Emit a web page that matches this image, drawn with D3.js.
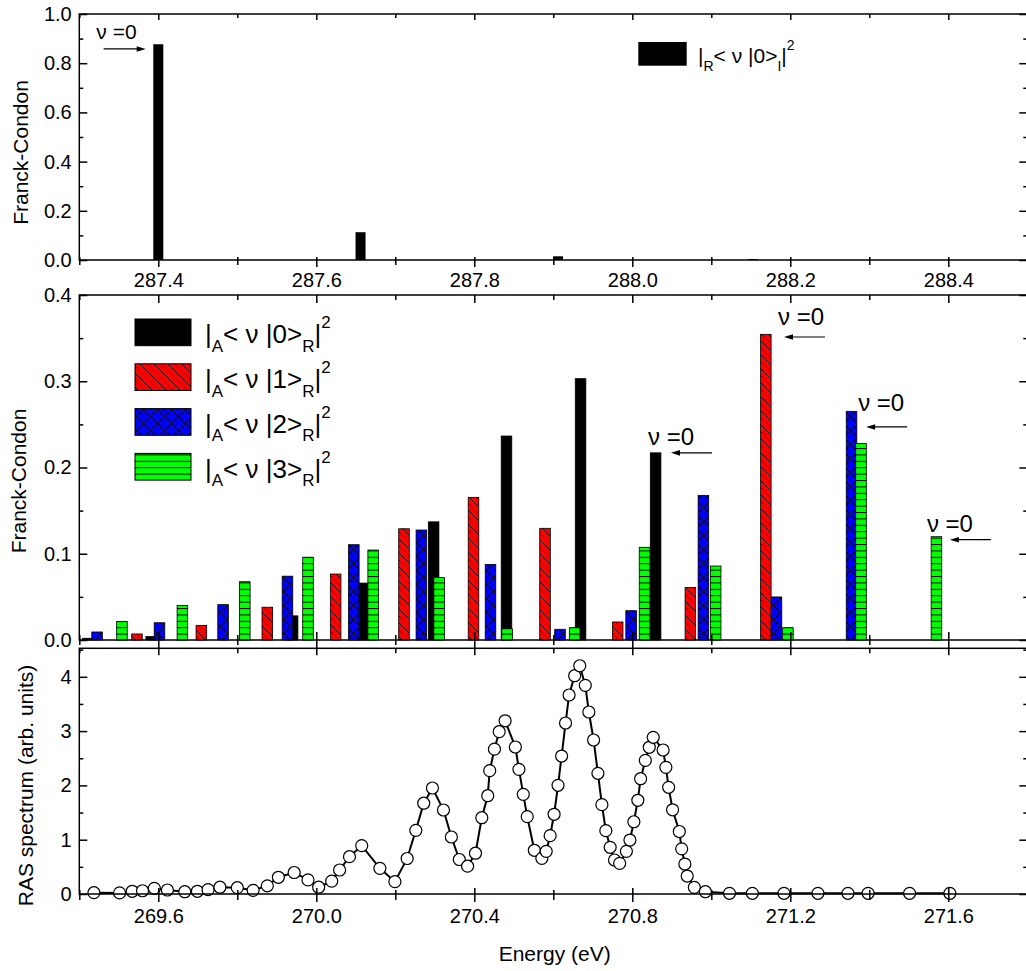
<!DOCTYPE html>
<html><head><meta charset="utf-8">
<script src="https://cdn.jsdelivr.net/npm/d3@7"></script>
<style>
body{margin:0;background:#fff}
svg{display:block}
text{font-family:"Liberation Sans", Arial, sans-serif; fill:#000}
</style>
</head><body>
<svg id="chart" width="1026" height="971"></svg>
<script>
// ---------------- DATA ----------------
// Top panel: |R<v|0>I|^2
const topEnergy = [287.4, 287.656, 287.906, 288.153];
const topFC     = [0.877, 0.113, 0.015, 0.004];

// Middle panel: |A<v|n>R|^2, n = 0..3
const fc0Energy = [269.421, 269.582, 269.940, 270.117, 270.297, 270.4815, 270.669, 270.859];
const fc0Value  = [0.002, 0.004, 0.028, 0.066, 0.137, 0.2365, 0.303, 0.217];
const fc1Energy = [269.546, 269.709, 269.876, 270.049, 270.222, 270.398, 270.579, 270.763, 270.947, 271.138];
const fc1Value  = [0.007, 0.017, 0.038, 0.0765, 0.129, 0.1654, 0.1295, 0.0209, 0.061, 0.3544];
const fc2Energy = [269.445, 269.603, 269.764, 269.927, 270.095, 270.266, 270.441, 270.617, 270.797, 270.980, 271.165, 271.355];
const fc2Value  = [0.0093, 0.020, 0.041, 0.074, 0.1105, 0.1275, 0.0877, 0.0124, 0.034, 0.1677, 0.0499, 0.2651];
const fc3Energy = [269.508, 269.661, 269.819, 269.979, 270.144, 270.311, 270.483, 270.654, 270.831, 271.011, 271.194, 271.379, 271.570];
const fc3Value  = [0.0216, 0.040, 0.0676, 0.096, 0.1043, 0.0723, 0.013, 0.0143, 0.1075, 0.0858, 0.0143, 0.228, 0.1198];

// Bottom panel: RAS spectrum
const rasEnergy = [269.437, 269.502, 269.534, 269.560, 269.590, 269.623, 269.667, 269.699, 269.726, 269.756,
  269.800, 269.840, 269.876, 269.904, 269.944, 269.979, 270.006, 270.039, 270.059, 270.084,
  270.115, 270.161, 270.199, 270.230, 270.252, 270.272, 270.294, 270.322, 270.342, 270.362,
  270.383, 270.403, 270.419, 270.434, 270.439, 270.451, 270.463, 270.478, 270.504, 270.513,
  270.524, 270.534, 270.552, 270.571, 270.582, 270.592, 270.602, 270.612, 270.621, 270.631,
  270.640, 270.654, 270.667, 270.681, 270.690, 270.702, 270.713, 270.723, 270.733, 270.744,
  270.755, 270.768, 270.785, 270.794, 270.804, 270.814, 270.821, 270.833, 270.843, 270.853,
  270.878, 270.885, 270.892, 270.902, 270.919, 270.925, 270.933, 270.939, 270.957, 270.985,
  271.046, 271.104, 271.184, 271.270, 271.346, 271.397, 271.502, 271.604];
const rasValue = [0.024, 0.02, 0.05, 0.06, 0.105, 0.074, 0.042, 0.05, 0.08, 0.125,
  0.116, 0.068, 0.151, 0.308, 0.396, 0.26, 0.125, 0.236, 0.442, 0.687,
  0.891, 0.473, 0.227, 0.654, 1.173, 1.672, 1.952, 1.547, 1.05, 0.635,
  0.512, 0.751, 1.405, 1.81, 2.271, 2.667, 2.989, 3.19, 2.707, 2.296,
  1.836, 1.424, 0.805, 0.657, 0.786, 1.074, 1.468, 2.002, 2.541, 3.149,
  3.665, 4.02, 4.204, 3.843, 3.352, 2.836, 2.223, 1.645, 1.166, 0.86,
  0.626, 0.565, 0.786, 0.994, 1.331, 1.726, 2.123, 2.462, 2.702, 2.886,
  2.652, 2.333, 1.965, 1.551, 1.151, 0.832, 0.552, 0.331, 0.123, 0.042,
  0.013, 0.013, 0.013, 0.013, 0.013, 0.013, 0.013, 0.013];

// Ticks
const topXTicks   = [287.4, 287.6, 287.8, 288.0, 288.2, 288.4];
const topXMinor   = [287.3, 287.5, 287.7, 287.9, 288.1, 288.3, 288.5];
const botXTicks   = [269.6, 270.0, 270.4, 270.8, 271.2, 271.6];
const botXMinor   = [269.4, 269.8, 270.2, 270.6, 271.0, 271.4, 271.8];
const topYTicks   = [0, 0.2, 0.4, 0.6, 0.8, 1.0];
const topYMinor   = [0.1, 0.3, 0.5, 0.7, 0.9];
const midYTicks   = [0, 0.1, 0.2, 0.3, 0.4];
const midYMinor   = [0.05, 0.15, 0.25, 0.35];
const botYTicks   = [0, 1, 2, 3, 4];
const botYMinor   = [0.5, 1.5, 2.5, 3.5, 4.5];

// Legend labels: [sub, ket, sub]
const midLegend = [["A","0","R"],["A","1","R"],["A","2","R"],["A","3","R"]];
const topLegend = ["R","0","I"];

// v=0 annotations (arrow tip in data coords)
const topNote = {e: 287.384, v: 0.858};
const midNotes = [
  {e: 270.898, v: 0.217, tdx: -23, tdy: -8},
  {e: 271.184, v: 0.3513, tdx: -6, tdy: -12},
  {e: 271.392, v: 0.247, tdx: -8, tdy: -16},
  {e: 271.604, v: 0.1163, tdx: -23, tdy: -8}
];

// ---------------- LAYOUT ----------------
const svg = d3.select("#chart");
const xL = 79.3, xR = 1027.3;
const xTop = d3.scaleLinear().domain([287.3, 288.5]).range([xL, xR]);
const xE   = d3.scaleLinear().domain([269.4, 271.8]).range([xL, xR]);
const yTop = d3.scaleLinear().domain([0, 1]).range([260, 14]);
const yMid = d3.scaleLinear().domain([0, 0.4]).range([640, 295]);
const yBot = d3.scaleLinear().domain([0, 4.525]).range([894, 648.3]);

const AX = 1.5;
const defs = svg.append("defs");
function pattern(id, w, h, fill, d, sw) {
  const p = defs.append("pattern").attr("id", id).attr("patternUnits", "userSpaceOnUse")
    .attr("width", w).attr("height", h);
  p.append("rect").attr("width", w).attr("height", h).attr("fill", fill);
  p.append("path").attr("d", d).attr("stroke", "#000").attr("stroke-width", sw).attr("fill", "none");
}
pattern("pRed", 7, 7, "#ff0000", "M0,0L7,7M-2,5L2,9M5,-2L9,2", 0.9);
pattern("pBlue", 7, 7, "#0000ff", "M0,0L7,7M7,0L0,7M-2,5L2,9M5,-2L9,2M-2,2L2,-2M5,9L9,5", 0.8);
pattern("pGreen", 7, 6.4, "#00ff00", "M0,0.5L7,0.5", 1);

const fills = ["#000", "url(#pRed)", "url(#pBlue)", "url(#pGreen)"];

// ---------------- BARS ----------------
const barW = 10.6;
svg.append("g").selectAll("rect").data(d3.zip(topEnergy, topFC)).join("rect")
  .attr("x", d => xTop(d[0]) - 5).attr("width", 10)
  .attr("y", d => yTop(d[1])).attr("height", d => yTop(0) - yTop(d[1]))
  .attr("fill", "#000");

const midSeries = [d3.zip(fc0Energy, fc0Value), d3.zip(fc1Energy, fc1Value),
                   d3.zip(fc2Energy, fc2Value), d3.zip(fc3Energy, fc3Value)];
midSeries.forEach((s, i) => {
  svg.append("g").selectAll("rect").data(s).join("rect")
    .attr("x", d => xE(d[0]) - barW / 2).attr("width", barW)
    .attr("y", d => yMid(d[1])).attr("height", d => yMid(0) - yMid(d[1]))
    .attr("fill", fills[i]).attr("stroke", "#000").attr("stroke-width", 0.8);
});

// ---------------- RAS line ----------------
const ras = d3.zip(rasEnergy, rasValue);
svg.append("path").datum(ras)
  .attr("d", d3.line().x(d => xE(d[0])).y(d => yBot(d[1])))
  .attr("fill", "none").attr("stroke", "#000").attr("stroke-width", 2);
svg.append("g").selectAll("circle").data(ras).join("circle")
  .attr("cx", d => xE(d[0])).attr("cy", d => yBot(d[1])).attr("r", 6)
  .attr("fill", "#fff").attr("stroke", "#000").attr("stroke-width", 1.2);

// ---------------- AXES ----------------
function styleAxis(g) {
  g.select(".domain").remove();
  g.selectAll("line").attr("stroke", "#000").attr("stroke-width", AX);
  g.selectAll("text").attr("font-size", 20).attr("fill", "#000")
    .attr("font-family", "'Liberation Sans', Arial, sans-serif");
}
function xAxis(scale, y, majors, minors, majIn, majOut, minIn, minOut, labels, pad) {
  const gM = svg.append("g").attr("transform", `translate(0,${y})`)
    .call(d3.axisBottom(scale).tickValues(majors).tickSize(majOut).tickPadding(pad)
      .tickFormat(labels ? d3.format(".1f") : ""));
  gM.selectAll(".tick line").attr("y1", -majIn);
  styleAxis(gM);
  const gm = svg.append("g").attr("transform", `translate(0,${y})`)
    .call(d3.axisBottom(scale).tickValues(minors).tickSize(minOut).tickFormat(""));
  gm.selectAll(".tick line").attr("y1", -minIn);
  styleAxis(gm);
}
function xTopAxis(scale, y, majors, minors, majIn, minIn) {
  const g = svg.append("g").attr("transform", `translate(0,${y})`)
    .call(d3.axisTop(scale).tickValues(majors).tickSize(-majIn).tickFormat(""));
  styleAxis(g);
  const g2 = svg.append("g").attr("transform", `translate(0,${y})`)
    .call(d3.axisTop(scale).tickValues(minors).tickSize(-minIn).tickFormat(""));
  styleAxis(g2);
}
function yAxes(scale, majors, minors, fmt) {
  const g = svg.append("g").attr("transform", `translate(${xL},0)`)
    .call(d3.axisLeft(scale).tickValues(majors).tickSize(-8).tickPadding(7.6).tickFormat(d3.format(fmt)));
  styleAxis(g);
  const g2 = svg.append("g").attr("transform", `translate(${xL},0)`)
    .call(d3.axisLeft(scale).tickValues(minors).tickSize(-4).tickFormat(""));
  styleAxis(g2);
  const g3 = svg.append("g").attr("transform", `translate(${xR},0)`)
    .call(d3.axisRight(scale).tickValues(majors).tickSize(-8).tickFormat(""));
  styleAxis(g3);
  const g4 = svg.append("g").attr("transform", `translate(${xR},0)`)
    .call(d3.axisRight(scale).tickValues(minors).tickSize(-4).tickFormat(""));
  styleAxis(g4);
}
function frame(y0, y1) {
  svg.append("rect").attr("x", xL).attr("y", y0).attr("width", xR - xL).attr("height", y1 - y0)
    .attr("fill", "none").attr("stroke", "#000").attr("stroke-width", AX);
}

// top panel
frame(14, 260);
yAxes(yTop, topYTicks, topYMinor, ".1f");
xTopAxis(xTop, 14, topXTicks, topXMinor, 6, 4);
xAxis(xTop, 260, topXTicks, topXMinor, 3, 7, 3, 5, true, 6);
// middle panel
frame(295, 640);
yAxes(yMid, midYTicks, midYMinor, ".1f");
xTopAxis(xE, 295, botXTicks, botXMinor, 8, 5);
xAxis(xE, 640, botXTicks, botXMinor, 8, 8, 5, 5, false, 0);
// bottom panel
frame(648.3, 894);
yAxes(yBot, botYTicks, botYMinor, "d");
xTopAxis(xE, 648.3, botXTicks, botXMinor, 7, 5);
xAxis(xE, 894, botXTicks, botXMinor, 6, 8, 4, 6, true, 6.5);

// ---------------- TITLES ----------------
function vtitle(x, y, txt) {
  svg.append("text").attr("transform", `translate(${x},${y}) rotate(-90)`)
    .attr("text-anchor", "middle").attr("font-size", 21).text(txt);
}
vtitle(28, 152.5, "Franck-Condon");
vtitle(25.5, 481, "Franck-Condon");
vtitle(33, 785.5, "RAS spectrum (arb. units)");
svg.append("text").attr("x", 554.7).attr("y", 961).attr("text-anchor", "middle")
  .attr("font-size", 21).text("Energy (eV)");

// ---------------- LEGENDS ----------------
function legendText(x, y, sub1, ket, sub2, fs, subfs, subdy, supdy) {
  const t = svg.append("text").attr("x", x).attr("y", y).attr("font-size", fs);
  t.append("tspan").text("|");
  t.append("tspan").attr("font-size", subfs).attr("dy", subdy).text(sub1);
  t.append("tspan").attr("dy", -subdy).text("< \u03BD |" + ket + ">");
  t.append("tspan").attr("font-size", subfs).attr("dy", subdy).text(sub2);
  t.append("tspan").attr("dy", -subdy).text("|");
  t.append("tspan").attr("font-size", subfs).attr("dy", supdy).text("2");
}
// top legend
svg.append("rect").attr("x", 638.3).attr("y", 42).attr("width", 48.4).attr("height", 23.7).attr("fill", "#000");
legendText(698, 63.3, topLegend[0], topLegend[1], topLegend[2], 21, 14, 7.4, -13.3);

// middle legend
midLegend.forEach((L, i) => {
  const y0 = 319 + i * 44.8;
  svg.append("rect").attr("x", 135).attr("y", y0).attr("width", 56).attr("height", 26.7)
    .attr("fill", fills[i]).attr("stroke", "#000").attr("stroke-width", 1);
  legendText(205, y0 + 24.3, L[0], L[1], L[2], 26, 17, 8.4, -15);
});

// ---------------- ANNOTATIONS ----------------
function arrow(x1, x2, y) {
  const dir = Math.sign(x2 - x1);
  svg.append("line").attr("x1", x1).attr("x2", x2 - dir * 6).attr("y1", y).attr("y2", y)
    .attr("stroke", "#000").attr("stroke-width", 1.2);
  svg.append("path").attr("d", `M${x2},${y}L${x2 - dir * 9},${y - 2.8}L${x2 - dir * 9},${y + 2.8}Z`)
    .attr("fill", "#000");
}
{
  const tx = xTop(topNote.e), ty = yTop(topNote.v);
  arrow(tx - 42, tx, ty);
  svg.append("text").attr("x", tx - 49.3).attr("y", ty - 10).attr("font-size", 21).text("\u03BD =0");
}
midNotes.forEach(n => {
  const tx = xE(n.e), ty = yMid(n.v);
  arrow(tx + 41, tx, ty);
  svg.append("text").attr("x", tx + n.tdx).attr("y", ty + n.tdy).attr("font-size", 24).text("\u03BD =0");
});
</script>
</body></html>
